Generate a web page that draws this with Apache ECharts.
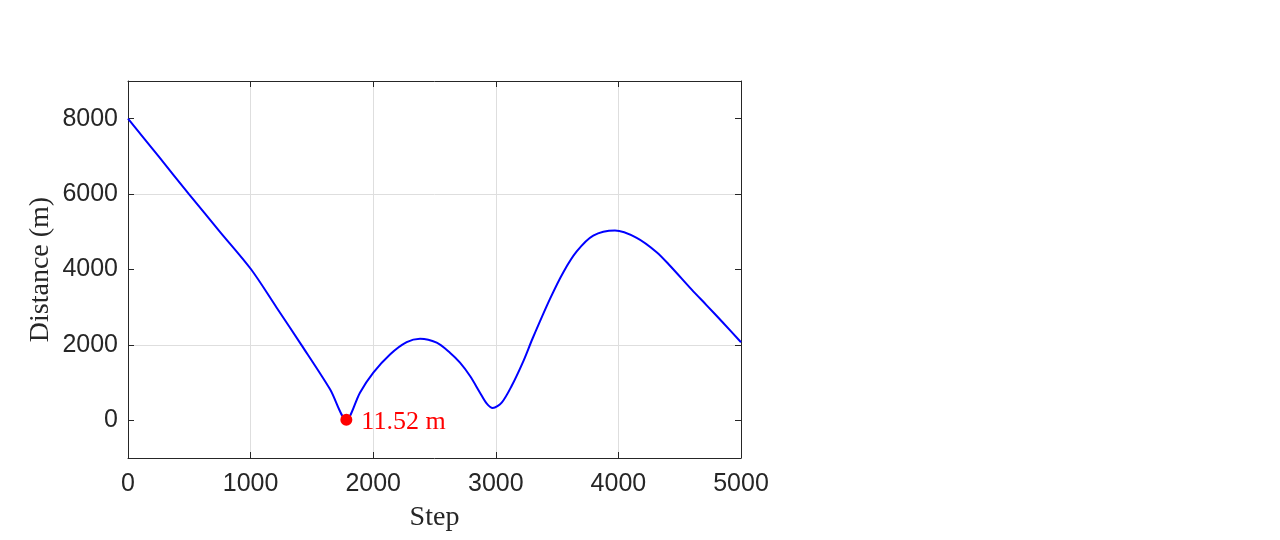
<!DOCTYPE html>
<html>
<head>
<meta charset="utf-8">
<script src="https://cdn.jsdelivr.net/npm/echarts@6/dist/echarts.min.js"></script>
<style>
  html, body { margin: 0; padding: 0; background: #fff; }
  #chart { width: 1280px; height: 540px; }
</style>
</head>
<body>
<div id="chart"></div>
<script>
// distance curve
var steps = [0, 250, 497, 750, 1005, 1210, 1414, 1648, 1781, 1892, 2001, 2137, 2273, 2382, 2518, 2626, 2708, 2790, 2871, 2925, 2975, 3048, 3129, 3225, 3300, 3442, 3551, 3660, 3795, 3972, 4149, 4312, 4421, 4600, 4720, 4850, 5000]
var distance = [8000, 7000, 6000, 5000, 4000, 3000, 2000, 821, 11.52, 733, 1264, 1748, 2074, 2164, 2058, 1793, 1528, 1174, 733, 450, 326, 469, 910, 1571, 2170, 3220, 3930, 4480, 4900, 5033, 4840, 4460, 4100, 3460, 3050, 2600, 2070]
var minPoint = [1781, 11.52]
var minLabel = '11.52 m'
var yTicks = [0, 2000, 4000, 6000, 8000]

var axisColor = '#262626'
var gridColor = '#dedede'
var serif = '"Liberation Serif", "Times New Roman", serif'
var sans = '"Liberation Sans", Arial, sans-serif'

function plain(v) {
  return String(v)
}

var chart = echarts.init(document.getElementById('chart'))

chart.setOption({
  animation: false,
  grid: {
    left: 128,
    right: 539,
    top: 81,
    bottom: 82
  },
  xAxis: [
    {
      type: 'value',
      min: 0,
      max: 5000,
      interval: 1000,
      name: 'Step',
      nameLocation: 'middle',
      nameGap: 46,
      nameTextStyle: { fontFamily: serif, fontSize: 28, color: axisColor },
      axisLine: { onZero: false, lineStyle: { color: axisColor } },
      axisTick: { inside: true, length: 6, lineStyle: { color: axisColor } },
      axisLabel: { fontFamily: sans, fontSize: 25, color: axisColor, margin: 14, formatter: plain },
      splitLine: { show: true, lineStyle: { color: gridColor } }
    },
    {
      type: 'value',
      position: 'top',
      min: 0,
      max: 5000,
      interval: 1000,
      axisLine: { show: true, onZero: false, lineStyle: { color: axisColor } },
      axisTick: { show: true, inside: true, length: 6, lineStyle: { color: axisColor } },
      axisLabel: { show: false },
      splitLine: { show: false }
    }
  ],
  yAxis: [
    {
      type: 'value',
      min: -1000,
      max: 9000,
      interval: 1000,
      name: 'Distance (m)',
      nameLocation: 'middle',
      nameGap: 73,
      nameTextStyle: { fontFamily: serif, fontSize: 28, color: axisColor },
      axisLine: { show: true, onZero: false, lineStyle: { color: axisColor } },
      axisTick: { show: true, inside: true, length: 6, customValues: yTicks, lineStyle: { color: axisColor } },
      axisLabel: { fontFamily: sans, fontSize: 25, color: axisColor, margin: 10, customValues: yTicks, formatter: plain },
      splitLine: { show: true, lineStyle: { color: ['rgba(0,0,0,0)', gridColor] } }
    },
    {
      type: 'value',
      position: 'right',
      min: -1000,
      max: 9000,
      interval: 1000,
      axisLine: { show: true, onZero: false, lineStyle: { color: axisColor } },
      axisTick: { show: true, inside: true, length: 6, customValues: yTicks, lineStyle: { color: axisColor } },
      axisLabel: { show: false },
      splitLine: { show: false }
    }
  ],
  series: [
    {
      type: 'line',
      data: steps.map(function (s, i) { return [s, distance[i]] }),
      showSymbol: false,
      smooth: 0.3,
      lineStyle: { color: '#0000ff', width: 2 },
      z: 2
    },
    {
      type: 'scatter',
      data: [minPoint],
      symbolSize: 12,
      itemStyle: { color: '#ff0000', opacity: 1 },
      label: {
        show: true,
        position: 'right',
        distance: 9,
        offset: [0, 2],
        formatter: minLabel,
        fontFamily: serif,
        fontSize: 26,
        color: '#ff0000'
      },
      z: 3
    }
  ]
})
</script>
</body>
</html>
